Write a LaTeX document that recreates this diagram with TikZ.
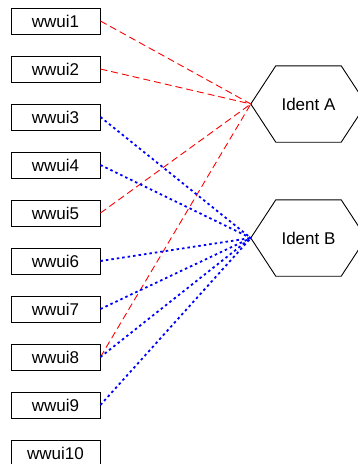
\documentclass[tikz,border=0pt]{standalone}
\usepackage{fontspec}
\setmainfont{Liberation Sans}
\usetikzlibrary{positioning}

\newcommand{\hexnode}[3]{%
  \node[hexlabel] (#1) at #2 {#3};
  \draw[line width=0.9pt] (#1.west) -- ([xshift=25pt]#1.north west) -- ([xshift=-25pt]#1.north east)
    -- (#1.east) -- ([xshift=-25pt]#1.south east) -- ([xshift=25pt]#1.south west) -- cycle;}

\begin{document}
\begin{tikzpicture}[x=1pt,y=-1pt,
  uibox/.style={draw, line width=0.9pt, minimum width=89pt, minimum height=26pt, inner sep=0pt,
    font=\fontsize{17pt}{19pt}\selectfont},
  hexlabel/.style={minimum width=115pt, minimum height=76pt, inner sep=0pt,
    font=\fontsize{17pt}{19pt}\selectfont},
  toa/.style={red, line width=0.9pt, dash pattern=on 7pt off 4pt},
  tob/.style={blue, line width=1.8pt, dash pattern=on 2.5pt off 3pt}]
\useasboundingbox (0,0) rectangle (357,464);
\foreach \i in {1,...,10}
  \node[uibox] (ui\i) at (55.5,{21+48*(\i-1)}) {wwui\i};
\hexnode{ida}{(308.5,104)}{Ident A}
\hexnode{idb}{(308.5,238)}{Ident B}
\foreach \i in {1,2,5,8}
  \draw[toa] (ui\i.east) -- (ida.west);
\foreach \i in {3,4,6,7,8,9}
  \draw[tob] (ui\i.east) -- (idb.west);
\end{tikzpicture}
\end{document}
